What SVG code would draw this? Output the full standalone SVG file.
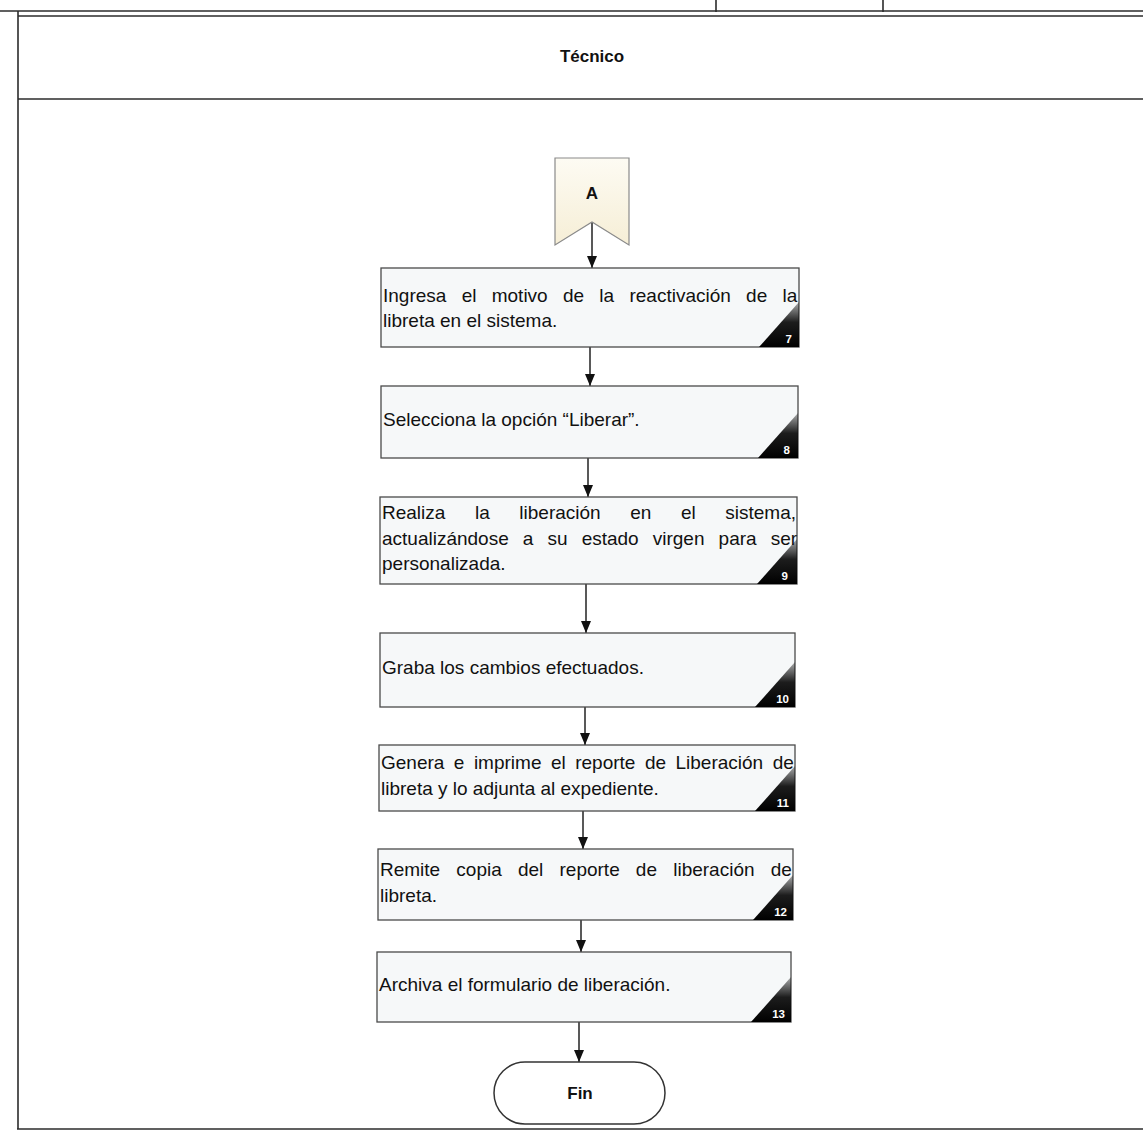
<svg xmlns="http://www.w3.org/2000/svg" width="1143" height="1134" viewBox="0 0 1143 1134">
  <style>
    .frame { stroke: #2b2b2b; stroke-width: 1.6; fill: none; }
    .box { fill: #f6f8f9; stroke: #4a4a4a; stroke-width: 1.3; }
    .txt { font-family: "Liberation Sans", Arial, sans-serif; font-size: 19px; fill: #111; }
    .num { font-family: "Liberation Sans", Arial, sans-serif; font-size: 11.5px; font-weight: bold; fill: #fff; text-anchor: end; }
    .title { font-family: "Liberation Sans", Arial, sans-serif; font-size: 17px; font-weight: bold; fill: #111; text-anchor: middle; }
    .conn { stroke: #222; stroke-width: 1.5; fill: none; marker-end: url(#arrow); }
  </style>
  <defs>
    <!-- arrowhead drawn along +x, rotated by orient="auto" -->
    <marker id="arrow" viewBox="0 0 12 10" refX="12" refY="5" markerWidth="12" markerHeight="10" markerUnits="userSpaceOnUse" orient="auto">
      <path d="M0,0 L12,5 L0,10 Z" fill="#111"/>
    </marker>
    <linearGradient id="corner" x1="0" y1="0" x2="0" y2="1">
      <stop offset="0" stop-color="#1a1a1a" stop-opacity="0.35"/>
      <stop offset="0.45" stop-color="#111" stop-opacity="0.95"/>
      <stop offset="1" stop-color="#000"/>
    </linearGradient>
    <linearGradient id="cream" x1="0" y1="0" x2="0" y2="1">
      <stop offset="0" stop-color="#fdfbf3"/>
      <stop offset="1" stop-color="#f6eed6"/>
    </linearGradient>
  </defs>

  <rect width="1143" height="1134" fill="#fff"/>

  <!-- page frame and lane header -->
  <g id="frame">
    <line class="frame" x1="0" y1="11" x2="1143" y2="11" stroke-width="2.2"/>
    <line class="frame" x1="716" y1="0" x2="716" y2="12"/>
    <line class="frame" x1="883" y1="0" x2="883" y2="12"/>
    <line class="frame" x1="18" y1="16" x2="1143" y2="16"/>
    <line class="frame" x1="18" y1="99" x2="1143" y2="99"/>
    <line class="frame" x1="18" y1="11" x2="18" y2="1129"/>
    <line class="frame" x1="17" y1="1129" x2="1143" y2="1129"/>
    <text class="title" x="592" y="62">Técnico</text>
  </g>

  <!-- connectors -->
  <g id="connectors">
    <line class="conn" x1="592" y1="222" x2="592" y2="268"/>
    <line class="conn" x1="590" y1="347" x2="590" y2="386"/>
    <line class="conn" x1="588" y1="458" x2="588" y2="497"/>
    <line class="conn" x1="586" y1="584" x2="586" y2="633"/>
    <line class="conn" x1="585" y1="707" x2="585" y2="745"/>
    <line class="conn" x1="583" y1="811" x2="583" y2="849"/>
    <line class="conn" x1="581" y1="920" x2="581" y2="952"/>
    <line class="conn" x1="579" y1="1022" x2="579" y2="1062"/>
  </g>

  <!-- off-page connector A -->
  <g id="conector-a">
    <path d="M555,158 L629,158 L629,245 L592,222 L555,245 Z" fill="url(#cream)" stroke="#8a8a8a" stroke-width="1.2"/>
    <text class="title" x="592" y="199">A</text>
  </g>

  <g id="paso-7">
    <rect class="box" x="381" y="268" width="418" height="79"/>
    <path d="M759,347 L799,347 L799,302 Z" fill="url(#corner)"/>
    <text class="txt" x="383" y="302" word-spacing="10">Ingresa el motivo de la reactivación de la</text>
    <text class="txt" x="383" y="327">libreta en el sistema.</text>
    <text class="num" x="792" y="343">7</text>
  </g>

  <g id="paso-8">
    <rect class="box" x="381" y="386" width="417" height="72"/>
    <path d="M758,458 L798,458 L798,413 Z" fill="url(#corner)"/>
    <text class="txt" x="383" y="426">Selecciona la opción “Liberar”.</text>
    <text class="num" x="790" y="454">8</text>
  </g>

  <g id="paso-9">
    <rect class="box" x="380" y="497" width="417" height="87"/>
    <path d="M757,584 L797,584 L797,539 Z" fill="url(#corner)"/>
    <text class="txt" x="382" y="519" word-spacing="24.3">Realiza la liberación en el sistema,</text>
    <text class="txt" x="382" y="545" word-spacing="8.8">actualizándose a su estado virgen para ser</text>
    <text class="txt" x="382" y="570">personalizada.</text>
    <text class="num" x="788" y="580">9</text>
  </g>

  <g id="paso-10">
    <rect class="box" x="380" y="633" width="415" height="74"/>
    <path d="M755,707 L795,707 L795,662 Z" fill="url(#corner)"/>
    <text class="txt" x="382" y="674">Graba los cambios efectuados.</text>
    <text class="num" x="789" y="703">10</text>
  </g>

  <g id="paso-11">
    <rect class="box" x="379" y="745" width="416" height="66"/>
    <path d="M755,811 L795,811 L795,766 Z" fill="url(#corner)"/>
    <text class="txt" x="381" y="769" word-spacing="4.2">Genera e imprime el reporte de Liberación de</text>
    <text class="txt" x="381" y="795">libreta y lo adjunta al expediente.</text>
    <text class="num" x="789" y="807">11</text>
  </g>

  <g id="paso-12">
    <rect class="box" x="378" y="849" width="415" height="71"/>
    <path d="M753,920 L793,920 L793,875 Z" fill="url(#corner)"/>
    <text class="txt" x="380" y="876" word-spacing="10.9">Remite copia del reporte de liberación de</text>
    <text class="txt" x="380" y="902">libreta.</text>
    <text class="num" x="787" y="916">12</text>
  </g>

  <g id="paso-13">
    <rect class="box" x="377" y="952" width="414" height="70"/>
    <path d="M751,1022 L791,1022 L791,977 Z" fill="url(#corner)"/>
    <text class="txt" x="379" y="991">Archiva el formulario de liberación.</text>
    <text class="num" x="785" y="1018">13</text>
  </g>

  <g id="fin">
    <rect x="494" y="1062" width="171" height="62" rx="31" ry="31" fill="#fff" stroke="#333" stroke-width="1.5"/>
    <text class="title" x="580" y="1099">Fin</text>
  </g>
</svg>
